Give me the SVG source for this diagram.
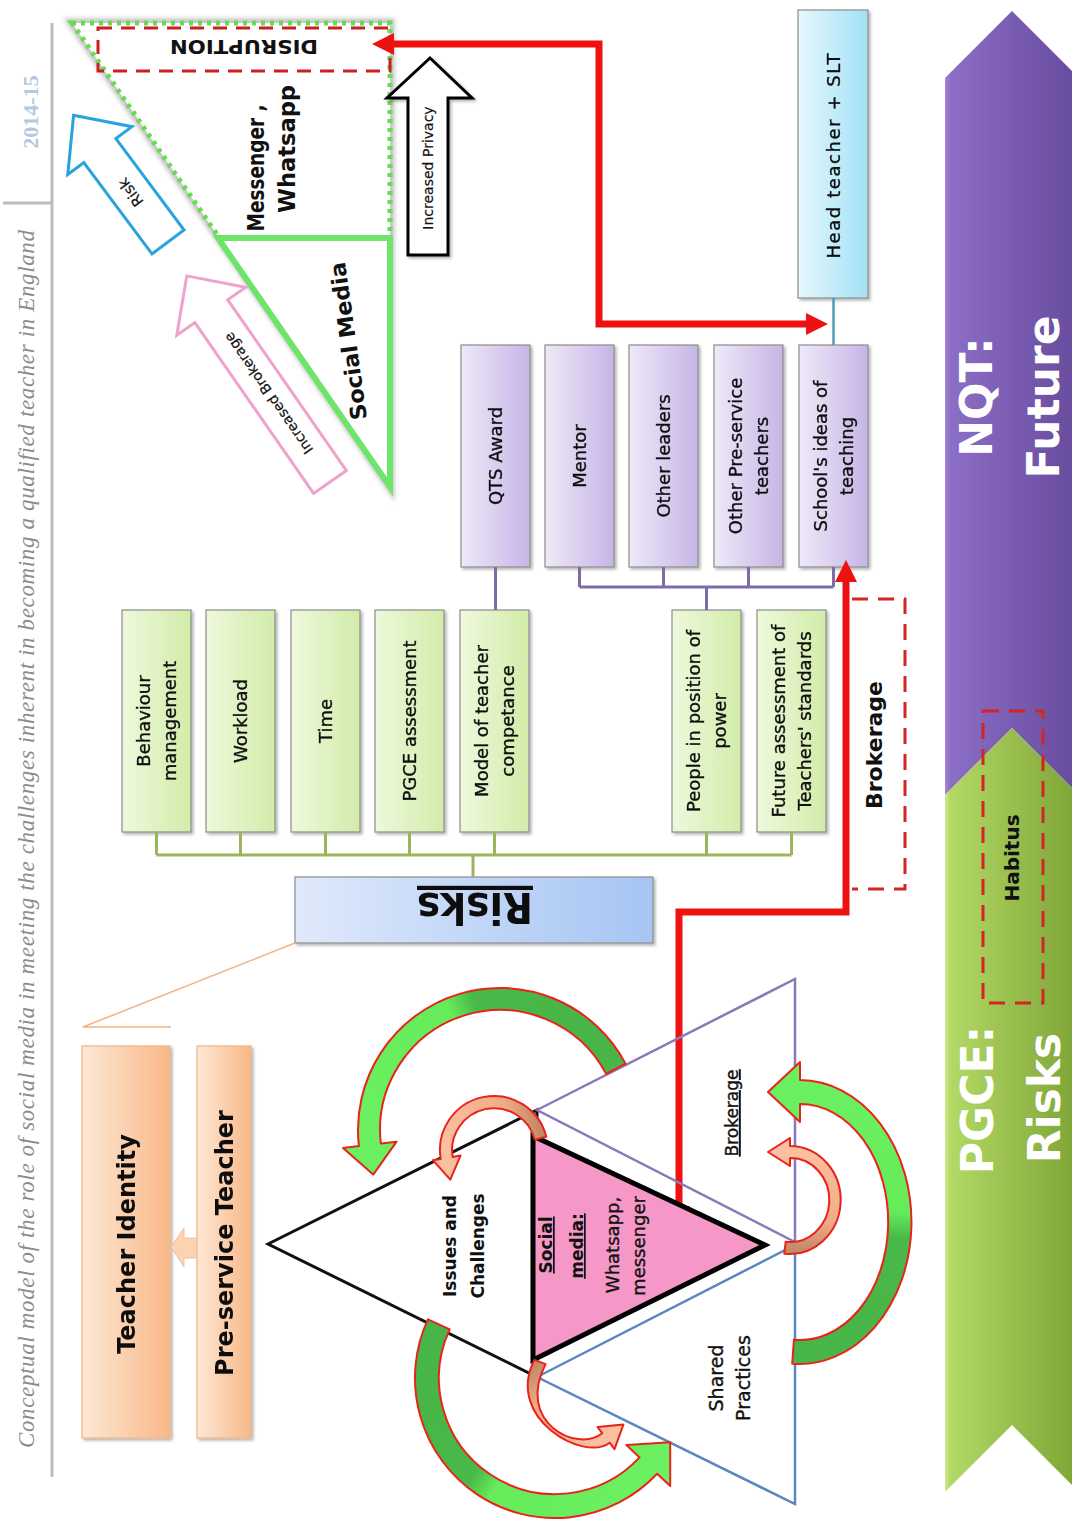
<svg xmlns="http://www.w3.org/2000/svg" width="1072" height="1521" viewBox="0 0 1072 1521">
<style>
.t{font-family:"DejaVu Sans","Liberation Sans",sans-serif;fill:#111;text-anchor:middle;font-size:18px;stroke:#111;stroke-width:0.35}
.b{font-weight:bold;stroke-width:0}
.box{stroke:#8c8c8c;stroke-width:1.2}
.gc{stroke:#9bb55c;stroke-width:3;fill:none}
.pc{stroke:#7d6ca8;stroke-width:3;fill:none}
.red{stroke:#ee1111;stroke-width:7;fill:none}
.dash{stroke:#d42424;stroke-width:3;fill:none;stroke-dasharray:16 10}
.ca{stroke:#e8231c;stroke-width:2;stroke-linejoin:round}
.band{font-family:"DejaVu Sans",sans-serif;font-weight:bold;font-size:44px;fill:#fff;text-anchor:middle}
</style>
<defs>
<linearGradient id="gG" x1="0" y1="0" x2="1" y2="0"><stop offset="0" stop-color="#eef9dc"/><stop offset="1" stop-color="#d2eca9"/></linearGradient>
<linearGradient id="gP" x1="0" y1="0" x2="1" y2="0"><stop offset="0" stop-color="#efe9f8"/><stop offset="1" stop-color="#c6b5e6"/></linearGradient>
<linearGradient id="gC" x1="0" y1="0" x2="1" y2="0"><stop offset="0" stop-color="#e6f8fd"/><stop offset="1" stop-color="#a3e1f6"/></linearGradient>
<linearGradient id="gB" x1="0" y1="0" x2="1" y2="0"><stop offset="0" stop-color="#dfe9fb"/><stop offset="1" stop-color="#a6c5f3"/></linearGradient>
<linearGradient id="gO" x1="0" y1="0" x2="1" y2="0"><stop offset="0" stop-color="#fde8d6"/><stop offset="1" stop-color="#f8b887"/></linearGradient>
<linearGradient id="gPur" x1="945" y1="0" x2="1080" y2="0" gradientUnits="userSpaceOnUse"><stop offset="0" stop-color="#a487d6"/><stop offset="0.04" stop-color="#8c6ec6"/><stop offset="1" stop-color="#664a9c"/></linearGradient>
<linearGradient id="gGrn" x1="945" y1="0" x2="1080" y2="0" gradientUnits="userSpaceOnUse"><stop offset="0" stop-color="#cdea88"/><stop offset="0.04" stop-color="#b2d865"/><stop offset="1" stop-color="#7ca335"/></linearGradient>
<linearGradient id="ag1" gradientUnits="userSpaceOnUse" x1="616" y1="1069" x2="370" y2="1145"><stop offset="0" stop-color="#47b547"/><stop offset="0.45" stop-color="#49b949"/><stop offset="0.55" stop-color="#66ec5a"/><stop offset="1" stop-color="#6af060"/></linearGradient>
<linearGradient id="ag2" gradientUnits="userSpaceOnUse" x1="438" y1="1324" x2="648" y2="1466"><stop offset="0" stop-color="#47b547"/><stop offset="0.45" stop-color="#49b949"/><stop offset="0.55" stop-color="#66ec5a"/><stop offset="1" stop-color="#6af060"/></linearGradient>
<linearGradient id="ag3" gradientUnits="userSpaceOnUse" x1="793" y1="1352" x2="800" y2="1092"><stop offset="0" stop-color="#47b547"/><stop offset="0.45" stop-color="#49b949"/><stop offset="0.55" stop-color="#66ec5a"/><stop offset="1" stop-color="#6af060"/></linearGradient>
<linearGradient id="ao1" gradientUnits="userSpaceOnUse" x1="541" y1="1138" x2="447" y2="1158"><stop offset="0" stop-color="#c48a68"/><stop offset="0.3" stop-color="#f2ab86"/><stop offset="1" stop-color="#fac0a0"/></linearGradient>
<linearGradient id="ao2" gradientUnits="userSpaceOnUse" x1="540" y1="1362" x2="606" y2="1438"><stop offset="0" stop-color="#c48a68"/><stop offset="0.3" stop-color="#f2ab86"/><stop offset="1" stop-color="#fac0a0"/></linearGradient>
<linearGradient id="ao3" gradientUnits="userSpaceOnUse" x1="785" y1="1248" x2="790" y2="1152"><stop offset="0" stop-color="#c48a68"/><stop offset="0.3" stop-color="#f2ab86"/><stop offset="1" stop-color="#fac0a0"/></linearGradient>
<filter id="sh" x="-10%" y="-10%" width="130%" height="130%"><feGaussianBlur in="SourceAlpha" stdDeviation="1.5"/><feOffset dx="2" dy="2"/><feComponentTransfer><feFuncA type="linear" slope="0.3"/></feComponentTransfer><feMerge><feMergeNode/><feMergeNode in="SourceGraphic"/></feMerge></filter>
<filter id="blur" x="-5%" y="-5%" width="110%" height="110%"><feGaussianBlur stdDeviation="2"/></filter>
<marker id="ah" markerUnits="userSpaceOnUse" markerWidth="24" markerHeight="24" viewBox="0 0 24 24" refX="0" refY="11" orient="auto-start-reverse"><path d="M0 0 L22 11 L0 22 Z" fill="#ee1111"/></marker>
</defs>
<rect width="1072" height="1521" fill="#fff"/>

<!-- header -->
<g id="header">
<path d="M52 23 V1477 M3 203 H52" stroke="#bcbcbc" stroke-width="3" fill="none"/>
<text transform="translate(34,1448) rotate(-90)" font-family="Liberation Serif,serif" font-style="italic" font-size="23" fill="#8c8c8c" textLength="1218" lengthAdjust="spacing">Conceptual model of the role of social media in meeting the challenges inherent in becoming a qualified teacher in England</text>
<text transform="translate(38,112) rotate(-90)" font-family="Liberation Serif,serif" font-weight="bold" font-size="22" fill="#b6c8de" text-anchor="middle">2014-15</text>
</g>

<!-- bands -->
<g id="nqt-future">
<polygon points="945,78 1012,11 1080,79 1080,796 1012,728 945,795" fill="url(#gPur)"/>
<text class="band" transform="translate(992,397) rotate(-90)">NQT:</text>
<text class="band" transform="translate(1059,397) rotate(-90)">Future</text>
</g>
<g id="pgce-risks">
<polygon points="945,795 1012,728 1080,796 1080,1493 1012,1425 945,1492" fill="url(#gGrn)"/>
<text class="band" transform="translate(993,1100) rotate(-90)">PGCE:</text>
<text class="band" transform="translate(1060,1098) rotate(-90)">Risks</text>
</g>
<g id="habitus">
<rect x="983" y="711" width="60" height="292" class="dash"/>
<text class="t b" style="font-size:20px" transform="translate(1019,858) rotate(-90)">Habitus</text>
</g>

<!-- top-left triangle -->
<g id="messenger-whatsapp">
<polygon points="72,23 390,23 390,487" fill="none" stroke="#8a8a8a" stroke-opacity="0.5" stroke-width="9" filter="url(#blur)"/>
<polygon points="72,23 390,23 390,487" fill="#fff" stroke="#66dc50" stroke-width="5" stroke-dasharray="4 5"/>
<text class="t b" style="font-size:23px" transform="translate(264,168) rotate(-90)" textLength="127" lengthAdjust="spacingAndGlyphs">Messenger ,</text>
<text class="t b" style="font-size:23px" transform="translate(295,149) rotate(-90)" textLength="128" lengthAdjust="spacingAndGlyphs">Whatsapp</text>
</g>
<g id="social-media">
<polygon points="218,238 390,238 390,487" fill="#fff" stroke="#6ee46a" stroke-width="6"/>
<text class="t b" style="font-size:22px" transform="translate(356,340) rotate(-98)" textLength="159" lengthAdjust="spacingAndGlyphs">Social Media</text>
</g>
<g id="disruption">
<rect x="98" y="28" width="292" height="43" fill="none" stroke="#cc2020" stroke-width="3" stroke-dasharray="14 9"/>
<text class="t b" style="font-size:20px" transform="translate(244,40) rotate(180)" textLength="148" lengthAdjust="spacingAndGlyphs">DISRUPTION</text>
</g>
<g id="increased-privacy">
<polygon points="430,58 472,98 448,98 448,255 408,255 408,98 387,98" fill="#fff" stroke="#000" stroke-width="3" filter="url(#sh)"/>
<text class="t" style="font-size:14px;stroke-width:0.2" transform="translate(433,168) rotate(-90)">Increased Privacy</text>
</g>
<g id="risk-arrow" transform="translate(168,242) rotate(-126.7)">
<polygon points="0,-20 114,-20 114,-40 158,0 114,40 114,20 0,20" fill="#fff" stroke="#29a3dc" stroke-width="3"/>
<text class="t" style="font-size:15px;stroke-width:0.2" x="62" y="5">Risk</text>
</g>
<g id="brokerage-arrow" transform="translate(330,482) rotate(-124.8)">
<polygon points="0,-20 208,-20 208,-42 251,0 208,42 208,20 0,20" fill="#fff" stroke="#f0a2cc" stroke-width="3"/>
<text class="t" style="font-size:14px;stroke-width:0.2" x="108" y="5">Increased Brokerage</text>
</g>

<!-- green risk boxes -->
<g id="behaviour-management" filter="url(#sh)"><rect x="122" y="610" width="69" height="222" fill="url(#gG)" class="box"/>
<text class="t" transform="translate(150,721) rotate(-90)">Behaviour</text><text class="t" transform="translate(176,721) rotate(-90)">management</text></g>
<g id="workload" filter="url(#sh)"><rect x="206" y="610" width="69" height="222" fill="url(#gG)" class="box"/>
<text class="t" transform="translate(247,721) rotate(-90)">Workload</text></g>
<g id="time" filter="url(#sh)"><rect x="291" y="610" width="69" height="222" fill="url(#gG)" class="box"/>
<text class="t" transform="translate(332,721) rotate(-90)">Time</text></g>
<g id="pgce-assessment" filter="url(#sh)"><rect x="375" y="610" width="69" height="222" fill="url(#gG)" class="box"/>
<text class="t" transform="translate(416,721) rotate(-90)">PGCE assessment</text></g>
<g id="model-teacher-competance" filter="url(#sh)"><rect x="460" y="610" width="69" height="222" fill="url(#gG)" class="box"/>
<text class="t" transform="translate(488,721) rotate(-90)">Model of teacher</text><text class="t" transform="translate(514,721) rotate(-90)">competance</text></g>
<g id="people-power" filter="url(#sh)"><rect x="672" y="610" width="69" height="222" fill="url(#gG)" class="box"/>
<text class="t" transform="translate(700,721) rotate(-90)">People in position of</text><text class="t" transform="translate(726,721) rotate(-90)">power</text></g>
<g id="future-assessment" filter="url(#sh)"><rect x="757" y="610" width="69" height="222" fill="url(#gG)" class="box"/>
<text class="t" transform="translate(785,721) rotate(-90)">Future assessment of</text><text class="t" transform="translate(811,721) rotate(-90)">Teachers'  standards</text></g>

<!-- purple boxes -->
<g id="qts-award" filter="url(#sh)"><rect x="461" y="345" width="69" height="222" fill="url(#gP)" class="box"/>
<text class="t" transform="translate(502,456) rotate(-90)">QTS Award</text></g>
<g id="mentor" filter="url(#sh)"><rect x="545" y="345" width="69" height="222" fill="url(#gP)" class="box"/>
<text class="t" transform="translate(586,456) rotate(-90)">Mentor</text></g>
<g id="other-leaders" filter="url(#sh)"><rect x="629" y="345" width="69" height="222" fill="url(#gP)" class="box"/>
<text class="t" transform="translate(670,456) rotate(-90)">Other leaders</text></g>
<g id="other-preservice" filter="url(#sh)"><rect x="714" y="345" width="69" height="222" fill="url(#gP)" class="box"/>
<text class="t" transform="translate(742,456) rotate(-90)">Other Pre-service</text><text class="t" transform="translate(768,456) rotate(-90)">teachers</text></g>
<g id="schools-ideas" filter="url(#sh)"><rect x="799" y="345" width="69" height="222" fill="url(#gP)" class="box"/>
<text class="t" transform="translate(827,456) rotate(-90)">School's ideas of</text><text class="t" transform="translate(853,456) rotate(-90)">teaching</text></g>
<g id="head-teacher" filter="url(#sh)"><rect x="798" y="10" width="70" height="288" fill="url(#gC)" class="box"/>
<text class="t" transform="translate(840,156) rotate(-90)" textLength="205" lengthAdjust="spacing">Head teacher + SLT</text></g>

<!-- risks box -->
<g id="risks" filter="url(#sh)"><rect x="295" y="877" width="358" height="66" fill="url(#gB)" class="box"/>
<text class="t b" style="font-size:42px" transform="translate(475,893) rotate(180)" text-decoration="underline" textLength="116" lengthAdjust="spacingAndGlyphs">Risks</text></g>

<!-- orange boxes -->
<g id="teacher-identity" filter="url(#sh)"><rect x="82" y="1046" width="88" height="392" fill="url(#gO)" stroke="#f0b585" stroke-width="1.2"/>
<text class="t b" style="font-size:24px" transform="translate(135,1244) rotate(-90)">Teacher Identity</text></g>
<g id="pre-service-teacher" filter="url(#sh)"><rect x="197" y="1046" width="54" height="392" fill="url(#gO)" stroke="#f0b585" stroke-width="1.2"/>
<text class="t b" style="font-size:24px" transform="translate(233,1243) rotate(-90)">Pre-service Teacher</text></g>
<g id="identity-arrow">
<polygon points="171,1247 184,1228 184,1238 197,1238 197,1258 184,1258 184,1267" fill="#fbd2b2" stroke="#f3bf98" stroke-width="1"/>
</g>

<!-- brokerage bracket -->
<g id="brokerage-label">
<path d="M852 599 H905 V889 H852" class="dash" stroke-dasharray="18 10"/>
<text class="t b" style="font-size:22px" transform="translate(882,745) rotate(-90)">Brokerage</text>
</g>

<!-- connectors -->
<g id="connectors">
<path class="gc" d="M156.5 832 V855 M240.5 832 V855 M325.5 832 V855 M409.5 832 V855 M494.5 832 V855 M706.5 832 V855 M791.5 832 V855 M156.5 855 H791.5 M473 855 V877"/>
<path class="pc" d="M495.5 567 V610 M579.5 567 V587 M663.5 567 V587 M748.5 567 V587 M833.5 567 V587 M579.5 587 H833.5 M706.5 587 V610"/>
<path d="M833.5 298 V345" stroke="#4b9fb8" stroke-width="2.5" fill="none"/>
<path d="M295 943 L83 1027 H171" stroke="#f2b183" stroke-width="1.5" fill="none"/>
<path class="red" d="M394 44 H599 V324 H806" marker-start="url(#ah)" marker-end="url(#ah)"/>
<path class="red" d="M846 582 V912 H679 V1206" marker-start="url(#ah)" marker-end="url(#ah)"/>
</g>

<!-- hexagram -->
<g id="issues-challenges">
<polygon points="268,1244 537,1110 537,1377" fill="none" stroke="#111" stroke-width="3"/>
<text class="t b" style="font-size:17px" transform="translate(456,1246) rotate(-90)">Issues and</text>
<text class="t b" style="font-size:17px" transform="translate(484,1246) rotate(-90)">Challenges</text>
</g>
<g id="brokerage-triangle">
<polygon points="537,1110 795,979 795,1242" fill="none" stroke="#8a78b8" stroke-width="2.5"/>
<text class="t" style="font-size:17px" text-decoration="underline" transform="translate(738,1113) rotate(-90)">Brokerage</text>
</g>
<g id="shared-practices">
<polygon points="537,1377 795,1245 795,1504" fill="none" stroke="#5b87c0" stroke-width="2.5"/>
<text class="t" style="font-size:19px" transform="translate(723,1378) rotate(-90)">Shared</text>
<text class="t" style="font-size:19px" transform="translate(750,1378) rotate(-90)">Practices</text>
</g>
<g id="social-media-core">
<polygon points="533,1136 533,1360 765,1245" fill="#f598c8" stroke="#000" stroke-width="5"/>
<text class="t b" style="font-size:17px" text-decoration="underline" transform="translate(552,1245) rotate(-90)">Social</text>
<text class="t b" style="font-size:17px" text-decoration="underline" transform="translate(583,1246) rotate(-90)">media:</text>
<text class="t" transform="translate(619,1245) rotate(-90)">Whatsapp,</text>
<text class="t" transform="translate(645,1246) rotate(-90)">messenger</text>
</g>

<!-- curved arrows -->
<g id="curved-arrows">
<path class="ca" fill="url(#ag1)" d="M625.5 1063.6 A142 142 0 0 0 358.9 1146.1 L343 1147.9 L373.2 1174.6 L396.6 1141.7 L380.8 1143.6 A120 120 0 0 1 606.1 1073.9 Z"/>
<path class="ca" fill="url(#ao1)" d="M546.3 1136.7 A54 54 0 0 0 440.7 1158.9 L432.9 1160.2 L450.3 1179.6 L460.5 1155.6 L452.6 1156.9 A42 42 0 0 1 534.7 1139.6 Z"/>
<path class="ca" fill="url(#ag2)" d="M427.9 1319.3 A140 140 0 0 0 657.1 1473.8 L670.2 1486.1 L670.2 1442.3 L626.4 1445.1 L639.6 1457.4 A116 116 0 0 1 449.7 1329.3 Z"/>
<path class="ca" fill="url(#ao2)" d="M534.4 1359.9 C504.4 1417.9 583.7 1462.7 609.7 1442.7 L614.5 1449.1 L623.4 1424.6 L597.5 1426.9 L602.3 1433.3 C576.3 1453.3 515.6 1422.1 545.6 1364.1 Z"/>
<path class="ca" fill="url(#ag3)" d="M792.2 1363.7 A112 142 0 1 0 800 1080 L800 1062 L768 1092 L800 1122 L800 1104 A88 118 0 1 1 793.9 1339.7 Z"/>
<path class="ca" fill="url(#ao3)" d="M784.3 1253.7 A51 54 0 1 0 790 1146 L790 1138 L768 1152 L790 1166 L790 1158 A39 42 0 1 1 785.7 1241.7 Z"/>
</g>
</svg>
